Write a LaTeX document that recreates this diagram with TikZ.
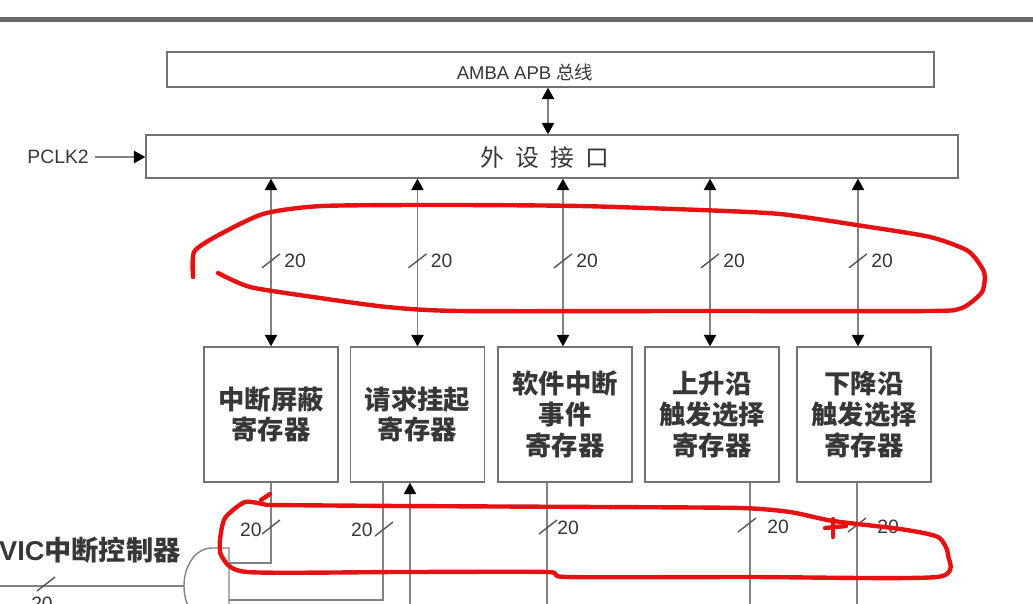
\documentclass[tikz,border=0pt]{standalone}
\usepackage{fontspec}
\setmainfont{Liberation Sans}
\newfontfamily\cjk{Noto Sans CJK SC}
\usetikzlibrary{arrows.meta, positioning, calc}
\definecolor{wiregray}{RGB}{130,130,130}
\definecolor{boxgray}{RGB}{115,115,115}
\definecolor{inkgray}{RGB}{55,55,55}
\definecolor{rulegray}{RGB}{105,105,105}
\definecolor{penred}{RGB}{228,18,18}

\begin{document}
\begin{tikzpicture}[x=0.02cm, y=-0.02cm,
    bus/.style={rectangle, draw=boxgray, line width=0.8pt, inner sep=0pt},
    reg/.style={rectangle, draw=boxgray, line width=0.8pt, inner sep=0pt,
                minimum width=2.68cm, minimum height=2.7cm, align=center,
                text=inkgray, font=\fontsize{15}{17.5}\selectfont\cjk\bfseries},
    wire/.style={draw=wiregray, line width=0.8pt},
    dbl/.style={wire, {Triangle[length=6.5pt, width=7pt, color=black]}-{Triangle[length=6.5pt, width=7pt, color=black]}},
    sgl/.style={wire, -{Triangle[length=6.5pt, width=7pt, color=black]}},
    lbl/.style={font=\fontsize{11}{12}\selectfont, text=inkgray, inner sep=0pt},
    pen/.style={draw=penred, line width=2.5pt, line cap=round, line join=round},
    slash/.pic={\draw[draw=inkgray!85, line width=0.8pt] (-9,7) -- (9,-7);},
]
\useasboundingbox (0,0) rectangle (1033,604);
\fill[white] (0,0) rectangle (1033,604);
\clip (0,0) rectangle (1033,604);

%% ── page rule ───────────────────────────────────────────────────────────────
\draw[draw=rulegray, line width=2.3pt] (0,19.5) -- (1033,19.5);

%% ── bus and interface ───────────────────────────────────────────────────────
\node[bus, minimum width=15.34cm, minimum height=0.7cm]  (amba)   at (550.5,69.5) {};
\node[lbl, font=\fontsize{10.5}{12}\selectfont]          (ambaT)  at (525,72)     {AMBA APB {\cjk 总线}};
\node[bus, minimum width=16.24cm, minimum height=0.86cm] (iface)  at (552,156.5)  {};
\node[lbl, font=\fontsize{13.5}{15}\selectfont\cjk]      (ifaceT) at (545,158)
     {外\hspace{6.5pt}设\hspace{6.5pt}接\hspace{6.5pt}口};
\node[lbl, anchor=east]                                  (pclk)   at (89,157)     {PCLK2};

\draw[dbl] (amba.south -| 548,0) -- (iface.north -| 548,0);
\draw[sgl] ([xshift=0.12cm]pclk.east) -- (iface.west |- pclk.east);

%% ── registers ───────────────────────────────────────────────────────────────
\node[reg] (mask)  at (271,414.5)   {中断屏蔽\\寄存器};
\node[reg] (pend)  at (417.5,414.5) {请求挂起\\寄存器};
\node[reg] (swier) at (565,414.5)   {软件中断\\事件\\寄存器};
\node[reg] (rtsr)  at (712,414.5)   {上升沿\\触发选择\\寄存器};
\node[reg] (ftsr)  at (864,414.5)   {下降沿\\触发选择\\寄存器};

%% ── interface <-> registers (20 bit) ────────────────────────────────────────
\draw[dbl] (iface.south -| mask.north)  -- coordinate[pos=0.49] (b1) (mask.north);
\draw[dbl] (iface.south -| pend.north)  -- coordinate[pos=0.49] (b2) (pend.north);
\draw[dbl] (iface.south -| 563,0)       -- coordinate[pos=0.49] (b3) (swier.north -| 563,0);
\draw[dbl] (iface.south -| 710,0)       -- coordinate[pos=0.49] (b4) (rtsr.north -| 710,0);
\draw[dbl] (iface.south -| 858,0)       -- coordinate[pos=0.49] (b5) (ftsr.north -| 858,0);
\foreach \b in {b1,b2,b3,b4,b5} {
    \pic at (\b) {slash};
    \node[lbl, right=0.26cm of \b] {20};
}

%% ── register outputs ────────────────────────────────────────────────────────
\coordinate (floor) at (0,615);
\coordinate (gTop)  at (229,548);
\coordinate (gIn1)  at (229,563);
\coordinate (gIn2)  at (229,600);
\coordinate (gBot)  at (229,624);
\coordinate (gOut)  at (184,586);
\coordinate (vicL)  at (0,586);

\coordinate (pOut) at ($(pend.south)+(-34.5,0)$);
\coordinate (pIn)  at ($(pend.south)+(-7.5,0)$);

\draw[wire] (mask.south) -- (mask.south |- gIn1) -- (gIn1);
\draw[wire] (pOut) -- (pOut |- gIn2) -- (gIn2);
\draw[sgl]  (pIn |- floor) -- (pIn);
\draw[wire] (swier.south -| 547,0) -- (floor -| 547,0);
\draw[wire] (rtsr.south -| 750,0)  -- (floor -| 750,0);
\draw[wire] (ftsr.south -| 857,0)  -- (floor -| 857,0);

\pic at (271,527) {slash};  \node[lbl, anchor=east] at (262,530) {20};
\pic at (384,529) {slash};  \node[lbl, anchor=east] at (373,530) {20};
\pic at (548,527) {slash};  \node[lbl, anchor=west] at (557,528) {20};
\pic at (747,525) {slash};  \node[lbl, anchor=west] at (767,527) {20};
\pic at (857,525) {slash};  \node[lbl, anchor=west] at (877,527) {20};

%% ── gate to NVIC ────────────────────────────────────────────────────────────
\draw[wire] (gBot) -- (gTop) -- ++(-17,0) .. controls +(-16,0) and +(0,-21) .. (gOut)
            .. controls +(0,21) and +(-16,0) .. ($(gBot)+(-17,0)$) -- (gBot);
\draw[wire] (gOut) -- (vicL);
\pic at (46,584) {slash};
\node[lbl, anchor=north] at (42,597) {20};
\node[anchor=east, inner sep=0pt, text=inkgray, font=\fontsize{15.5}{17}\selectfont\bfseries]
     (vic) at (181,550) {VIC{\cjk 中断控制器}};

%% ── red marks ───────────────────────────────────────────────────────────────
\draw[pen] plot[smooth, tension=0.4] coordinates {
    (193,277) (194,252) (215,237) (263,214) (322,206) (450,205) (580,206) (700,210)
    (780,214) (863,226) (930,237) (968,251) (984,272) (982,292) (962,308) (930,311)
    (700,311) (460,311) (387,307) (313,297) (250,287) (218,273)};
\draw[pen] plot[smooth, tension=0.4] coordinates {
    (267,505) (245,502) (225,518) (220,540) (222,557) (247,572) (400,572) (547,572)
    (567,577) (750,577) (937,577) (948,555) (938,537) (900,529) (833,521) (790,512)
    (740,508) (600,507) (400,506) (267,505)};
\draw[pen] (261,500) -- (270,494);
\draw[pen] (825,528) -- (846,526);
\draw[pen] (833,519) -- (833,537);

\end{tikzpicture}
\end{document}
